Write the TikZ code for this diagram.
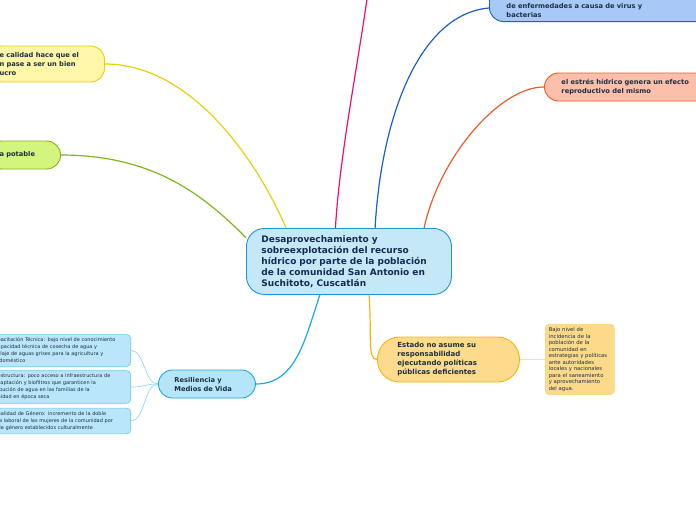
\documentclass[tikz,border=0pt]{standalone}
\usepackage{fontspec}
\setmainfont{DejaVu Sans}
\usetikzlibrary{backgrounds}

\definecolor{ink}{HTML}{1B3040}
\definecolor{navy}{HTML}{162B52}
\definecolor{ctrfill}{HTML}{C5E8F9}
\definecolor{ctrline}{HTML}{1E96D4}
\definecolor{yelfill}{HTML}{FFF6A8}
\definecolor{yelline}{HTML}{E6D00E}
\definecolor{grnfill}{HTML}{D3F57E}
\definecolor{grnline}{HTML}{80B51A}
\definecolor{pinkline}{HTML}{EC0F72}
\definecolor{blufill}{HTML}{A8C9F8}
\definecolor{bluline}{HTML}{1B5FCB}
\definecolor{salfill}{HTML}{FBBFAA}
\definecolor{salline}{HTML}{F05A28}
\definecolor{resfill}{HTML}{B5E5F9}
\definecolor{resline}{HTML}{1CA8DD}
\definecolor{chfill}{HTML}{B9E6FA}
\definecolor{chline}{HTML}{62C9F1}
\definecolor{chlink}{HTML}{94D7F3}
\definecolor{estfill}{HTML}{FDDA8C}
\definecolor{estline}{HTML}{F4B50E}
\definecolor{notefill}{HTML}{FDD98A}
\definecolor{noteline}{HTML}{FAD07A}
\definecolor{notelink}{HTML}{FBDDA6}

\begin{document}
\begin{tikzpicture}[
    x=1pt, y=-1pt,
    font=\fontsize{6.7}{9}\selectfont\bfseries,
    topic/.style={draw, line width=0.9pt, rounded corners=14pt, align=left,
                  text=ink, inner ysep=3pt},
    central/.style={topic, rounded corners=18pt, fill=ctrfill, draw=ctrline,
                    font=\fontsize{9}{11}\selectfont\bfseries, text=navy,
                    inner xsep=15pt, text width=175pt,
                    minimum width=205pt, minimum height=66pt},
    detail/.style={draw, line width=0.6pt, rounded corners=4pt, align=left,
                   text=ink, font=\fontsize{5}{7}\selectfont, inner xsep=3pt},
    link/.style={line width=1.2pt},
    twig/.style={line width=0.7pt}
  ]
  \useasboundingbox (0,0) rectangle (696,520);
  \clip (0,0) rectangle (696,520);

  % ---- central topic ----
  \node[central, anchor=north west] (ctr) at (246,228)
    {Desaprovechamiento y\\ sobreexplotación del recurso\\ hídrico por parte de la población\\
     de la comunidad San Antonio en\\ Suchitoto, Cuscatlán};

  % ---- left branches ----
  \node[topic, fill=yelfill, draw=yelline, anchor=east, inner xsep=12pt,
        text width=93pt, minimum height=36pt] (calidad) at (105,64)
    {e calidad hace que el\\ n pase a ser un bien\\ ucro};
  \node[topic, fill=grnfill, draw=grnline, anchor=east, inner xsep=12pt,
        text width=49pt, minimum height=28pt] (potable) at (61,155) {a potable};

  % ---- right branches ----
  \node[topic, fill=blufill, draw=bluline, anchor=south west, inner xsep=17pt,
        text width=196pt, text height=24pt, inner ysep=4pt] (virus) at (489,22)
    {de enfermedades a causa de virus y\\ bacterias};
  \node[topic, fill=salfill, draw=salline, anchor=west, inner xsep=17pt,
        text width=166pt, minimum height=28pt] (estres) at (544,87)
    {el estrés hídrico genera un efecto\\ reproductivo del mismo};

  % ---- lower branches ----
  \node[topic, fill=resfill, draw=resline, anchor=west, inner xsep=16pt,
        text width=65pt, minimum height=28pt] (resil) at (158,384)
    {Resiliencia y\\ Medios de Vida};
  \node[topic, fill=estfill, draw=estline, rounded corners=22pt, anchor=west,
        inner xsep=20pt, text width=102pt, minimum height=45pt,
        font=\fontsize{7}{9}\selectfont\bfseries] (estado) at (377,359.5)
    {Estado no asume su\\ responsabilidad\\ ejecutando políticas\\ públicas deficientes};
  \node[detail, fill=notefill, draw=noteline, anchor=north west, inner xsep=3.5pt,
        text width=62pt, minimum height=70pt,
        font=\fontsize{5.3}{6.5}\selectfont] (incid) at (545,324)
    {Bajo nivel de\\ incidencia de la\\ población de la\\ comunidad en\\ estrategias y políticas\\
     ante autoridades\\ locales y nacionales\\ para el saneamiento\\ y aprovechamiento\\ del agua.};

  % ---- details of Resiliencia ----
  \node[detail, fill=chfill, draw=chline, anchor=east, text width=130pt,
        minimum height=31pt] (capac) at (131,350.5)
    {pacitación Técnica: bajo nivel de conocimiento\\ apacidad técnica de cosecha de agua y\\
     claje de aguas grises para la agricultura y\\ \ doméstico};
  \node[detail, fill=chfill, draw=chline, anchor=east, text width=130pt,
        minimum height=30pt] (infra) at (131,387)
    {estructura: poco acceso a infraestructura de\\ captación y biofiltros que garanticen la\\
     ibución de agua en las familias de la\\ nidad en época seca};
  \node[detail, fill=chfill, draw=chline, anchor=east, text width=130pt,
        minimum height=24pt] (genero) at (131,421)
    {ualidad de Género: incremento de la doble\\ la laboral de las mujeres de la comunidad por\\
     de género establecidos culturalmente};

  % ---- connectors ----
  \coordinate (pinktop) at (367,-1);
  \begin{scope}[on background layer]
    \draw[link, yelline] (calidad.east) .. controls +(85,0) and +(-30,-70) .. (ctr.152);
    \draw[link, grnline] (potable.east) .. controls +(95,0) and +(-40,-40) .. (ctr.167);
    \draw[link, pinkline] (pinktop) .. controls +(-10,70) and +(4,-70) .. (ctr.112);
    \draw[link, bluline] ([yshift=14pt]virus.south west)
      .. controls +(-70,6) and +(6,-110) .. (ctr.52);
    \draw[link, salline] (estres.west) .. controls +(-45,0) and +(15,-70) .. (ctr.24);
    \draw[link, resline] (ctr.229) .. controls +(-15,45) and +(40,0) .. (resil.east);
    \draw[link, estline] (ctr.301) .. controls +(3,40) and +(-10,0) .. (estado.west);
    \draw[twig, notelink] (estado.east) -- (incid.west);
    \draw[twig, chlink] (resil.west) .. controls +(-14,0) and +(14,0) .. (capac.east);
    \draw[twig, chlink] (resil.west) .. controls +(-14,0) and +(14,0) .. (infra.east);
    \draw[twig, chlink] (resil.west) .. controls +(-14,0) and +(14,0) .. (genero.east);
  \end{scope}

\end{tikzpicture}
\end{document}
